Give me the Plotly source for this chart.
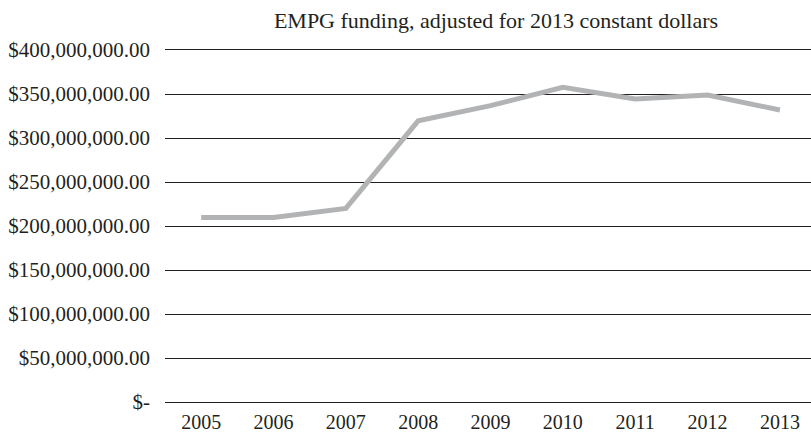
import plotly.graph_objects as go

# EMPG funding, constant 2013 dollars
years = ["2005", "2006", "2007", "2008", "2009", "2010", "2011", "2012", "2013"]
funding = [209.8e6, 209.6e6, 220.0e6, 319.5e6, 336.8e6, 357.5e6, 344.3e6, 348.8e6, 331.8e6]

tick_values = [0, 50e6, 100e6, 150e6, 200e6, 250e6, 300e6, 350e6, 400e6]
tick_labels = ["$-", "$50,000,000.00", "$100,000,000.00", "$150,000,000.00",
               "$200,000,000.00", "$250,000,000.00", "$300,000,000.00",
               "$350,000,000.00", "$400,000,000.00"]

FONT = "Liberation Serif"
TEXT = "#231f20"
GRID = "#231f20"

fig = go.Figure()
fig.add_trace(go.Scatter(
    x=list(range(len(years))),
    y=funding,
    mode="lines",
    line=dict(color="#b2b3b5", width=5),
    hoverinfo="skip",
))

fig.update_layout(
    width=811,
    height=434,
    margin=dict(l=165, r=0, t=50, b=32),
    paper_bgcolor="white",
    plot_bgcolor="white",
    showlegend=False,
    title=dict(
        text="EMPG funding, adjusted for 2013 constant dollars",
        x=496 / 811, xanchor="center",
        y=1 - 20 / 434, yanchor="middle",
        font=dict(family=FONT, size=22, color=TEXT),
    ),
    xaxis=dict(
        range=[-0.5, 8.43],
        automargin=False,
        tickmode="array",
        tickvals=list(range(len(years))),
        ticktext=years,
        showgrid=False,
        zeroline=False,
        # axis line at the bottom, mirrored to the top, so the 0 and
        # 400M rules sit on the plot edges like the other gridlines
        showline=True,
        mirror=True,
        linecolor=GRID,
        linewidth=1.3,
        ticks="",
        tickfont=dict(family=FONT, size=20, color=TEXT),
        ticklabelstandoff=2,
    ),
    yaxis=dict(
        range=[0, 400e6],
        automargin=False,
        tickmode="array",
        tickvals=tick_values,
        ticktext=tick_labels,
        showgrid=True,
        gridcolor=GRID,
        gridwidth=1.3,
        zeroline=False,
        showline=False,
        ticks="",
        tickfont=dict(family=FONT, size=21, color=TEXT),
        ticklabelstandoff=14,
    ),
)

fig.write_html("out.html")
